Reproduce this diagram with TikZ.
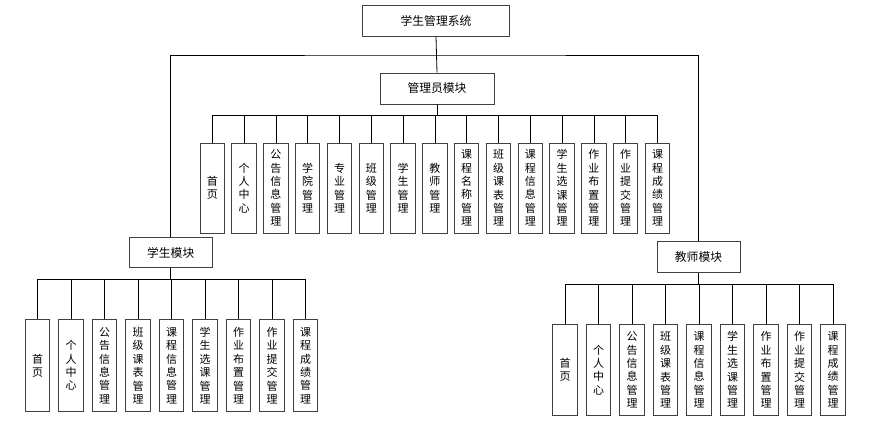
\documentclass[tikz,border=0pt]{standalone}
\usepackage{fontspec}
\newfontfamily\cjk{Noto Sans CJK SC}
\begin{document}
\begin{tikzpicture}[x=1pt,y=-1pt,
  box/.style={draw=black!75, line width=1pt, inner sep=0pt, fill=white,
    font=\cjk\fontsize{11.8}{13}\selectfont},
  leaf/.style={draw=black!75, line width=1pt, inner sep=0pt, fill=white,
    minimum width=24.5pt, align=center,
    font=\cjk\fontsize{11}{13.4}\selectfont},
  link/.style={line width=0.8pt, draw=black}]
\useasboundingbox[fill=white] (0,0) rectangle (874,429);

% top level
\node[box, minimum width=147pt, minimum height=31pt] (top) at (436,20.5) {学生管理系统};
\node[box, minimum width=114pt, minimum height=31pt] (admin) at (437,88.5) {管理员模块};
\node[box, minimum width=83pt, minimum height=30pt] (stu) at (170.7,252.5) {学生模块};
\node[box, minimum width=83pt, minimum height=31pt] (tea) at (698.5,257.3) {教师模块};
\coordinate (j) at (436,55);

\draw[link] (top.south) -- (admin.north);
\draw[link] (stu.north) |- (j) -| (tea.north);

% admin children
\foreach \t [count=\i from 0] in {
  首\\页, 个\\人\\中\\心, 公\\告\\信\\息\\管\\理, 学\\院\\管\\理, 专\\业\\管\\理,
  班\\级\\管\\理, 学\\生\\管\\理, 教\\师\\管\\理, 课\\程\\名\\称\\管\\理,
  班\\级\\课\\表\\管\\理, 课\\程\\信\\息\\管\\理, 学\\生\\选\\课\\管\\理,
  作\\业\\布\\置\\管\\理, 作\\业\\提\\交\\管\\理, 课\\程\\成\\绩\\管\\理}{
  \node[leaf, minimum height=90pt] (a\i) at ({212.3+31.8*\i},188) {\t};
  \draw[link] (admin.south) -- ++(0,11) -| (a\i.north);
}

% student children
\foreach \t [count=\i from 0] in {
  首\\页, 个\\人\\中\\心, 公\\告\\信\\息\\管\\理, 班\\级\\课\\表\\管\\理,
  课\\程\\信\\息\\管\\理, 学\\生\\选\\课\\管\\理, 作\\业\\布\\置\\管\\理,
  作\\业\\提\\交\\管\\理, 课\\程\\成\\绩\\管\\理}{
  \node[leaf, minimum height=92pt] (s\i) at ({37.5+33.5*\i},365.6) {\t};
  \draw[link] (stu.south) -- ++(0,11.5) -| (s\i.north);
}

% teacher children
\foreach \t [count=\i from 0] in {
  首\\页, 个\\人\\中\\心, 公\\告\\信\\息\\管\\理, 班\\级\\课\\表\\管\\理,
  课\\程\\信\\息\\管\\理, 学\\生\\选\\课\\管\\理, 作\\业\\布\\置\\管\\理,
  作\\业\\提\\交\\管\\理, 课\\程\\成\\绩\\管\\理}{
  \node[leaf, minimum height=91pt] (t\i) at ({565+33.5*\i},370) {\t};
  \draw[link] (tea.south) -- ++(0,10.6) -| (t\i.north);
}
\end{tikzpicture}
\end{document}
